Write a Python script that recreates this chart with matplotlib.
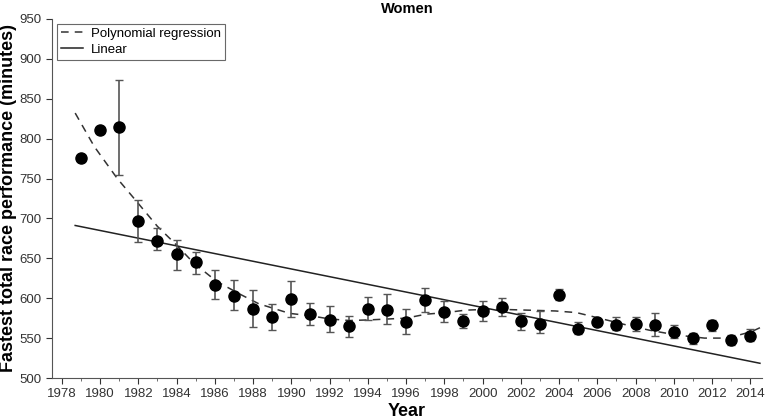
import numpy as np
import matplotlib
matplotlib.use("Agg")
import matplotlib.pyplot as plt

plt.rcParams["font.family"] = ["Liberation Sans", "DejaVu Sans"]

# Fastest total race performance, women
years = np.arange(1979, 2015)
perf = [776, 811, 815, 697, 672, 655, 645, 617, 603, 587,
        576, 599, 580, 573, 565, 587, 585, 570, 598, 583,
        571, 584, 589, 571, 568, 604, 562, 570, 567, 568,
        567, 558, 550, 566, 548, 553]
err_lo = [0, 0, 60, 27, 12, 20, 15, 18, 18, 23,
          16, 22, 13, 15, 13, 14, 17, 15, 15, 13,
          8, 13, 11, 11, 12, 6, 7, 4, 7, 9,
          14, 8, 7, 7, 7, 7]
err_hi = [0, 0, 58, 26, 16, 18, 13, 18, 20, 23,
          17, 23, 14, 17, 13, 15, 20, 16, 15, 13,
          9, 12, 11, 11, 16, 7, 8, 4, 9, 9,
          15, 9, 7, 7, 6, 8]

# polynomial regression curve
poly_years = [1978.7, 1979.7, 1980.9, 1981.85, 1983.0, 1983.9, 1984.9, 1986.1,
              1987.4, 1988.3, 1989.9, 1991.0, 1992.0, 1993.05, 1994.25, 1995.1,
              1996.0, 1997.05, 1998.1, 1999.1, 2000.2, 2001.0, 2002.4, 2003.8,
              2004.9, 2006.1, 2007.6, 2008.7, 2010.1, 2011.6, 2012.8, 2014.05, 2014.5]
poly_vals = [832, 790, 750, 723, 690, 669, 644, 621,
             604, 593, 581, 578, 574, 572, 573, 574,
             575, 580, 582, 585, 586, 586, 585, 584,
             582, 575, 566, 560, 554, 550, 550, 558, 563]

fit_x = np.array([1978.7, 2014.5])
lin = np.polyfit(years, perf, 1)

fig = plt.figure(figsize=(7.68, 4.2), dpi=100)
ax = fig.add_axes([0.068, 0.1, 0.924, 0.855])

ax.plot(poly_years, poly_vals, color="#333333", ls=(0, (5, 4)), lw=1.1,
        label="Polynomial regression")
ax.plot(fit_x, np.polyval(lin, fit_x), color="#222222", lw=1.1, label="Linear")
ax.errorbar(years, perf, yerr=[err_lo, err_hi], fmt="o", color="black", ms=8,
            ecolor="#555555", elinewidth=1.2, capsize=3, capthick=1)

ax.set_xlim(1977.5, 2014.6)
ax.set_ylim(500, 950)
ax.set_xticks(np.arange(1978, 2015, 2))
ax.set_xticks(np.arange(1979, 2015, 2), minor=True)
ax.set_yticks(np.arange(500, 951, 50))
for s in ["top", "right"]:
    ax.spines[s].set_visible(False)
for s in ["left", "bottom"]:
    ax.spines[s].set_color("#555555")
ax.tick_params(colors="#333333", labelsize=9.5, length=4)
ax.tick_params(which="minor", length=2.5, color="#555555")

ax.set_title("Women", fontsize=10.5, fontweight="bold", pad=4)
ax.set_xlabel("Year", fontsize=13, fontweight="bold", labelpad=2)
ax.set_ylabel("Fastest total race performance (minutes)", fontsize=13, fontweight="bold", labelpad=2)

leg = ax.legend(loc="upper left", fontsize=9.5, frameon=True, fancybox=False,
                edgecolor="#444444", borderaxespad=0.35, handlelength=1.7,
                borderpad=0.3, labelspacing=0.3, handletextpad=0.6)
leg.get_frame().set_linewidth(0.8)

fig.savefig("out.png", dpi=100)
